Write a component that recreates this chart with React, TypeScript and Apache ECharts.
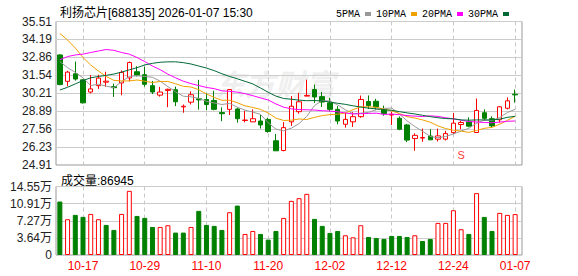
import React, { useEffect, useRef } from 'react';
import * as echarts from 'echarts';

const titleText = '利扬芯片[688135] 2026-01-07 15:30';
const volumeTitle = '成交量';

const dates = ['10-14','10-15','10-16','10-17','10-20','10-21','10-22','10-23','10-24','10-27','10-28','10-29','10-30','10-31','11-03','11-04','11-05','11-06','11-07','11-10','11-11','11-12','11-13','11-14','11-17','11-18','11-19','11-20','11-21','11-24','11-25','11-26','11-27','11-28','12-01','12-02','12-03','12-04','12-05','12-08','12-09','12-10','12-11','12-12','12-15','12-16','12-17','12-18','12-19','12-22','12-23','12-24','12-25','12-26','12-29','12-30','12-31','01-05','01-06','01-07'];

const opens = [33.04,31.09,31.65,31.2,30.3,30.77,31.03,30.7,30.97,31.34,31.8,31.58,30.77,30.07,30.42,30.47,29.2,29.55,29.8,29.75,29.68,28.78,29.02,29.05,28.2,28.1,28.16,28.28,26.7,25.98,28.1,28.85,30.0,30.48,29.96,29.5,29.02,27.92,28.1,28.48,29.6,29.62,29.02,28.6,28.36,27.87,26.87,26.9,27.05,26.82,26.82,27.3,27.9,28.1,27.31,28.77,28.33,28.25,29.1,30.14];
const closes = [30.85,31.77,31.26,29.5,30.53,31.33,31.1,30.62,31.75,32.48,31.55,30.87,30.3,30.3,30.5,29.58,29.25,30.1,29.72,29.38,29.02,28.7,30.48,28.33,28.23,28.33,27.87,27.38,25.96,27.67,29.25,29.58,30.05,29.94,29.56,29.02,28.16,28.28,28.48,29.75,29.3,29.2,28.7,28.65,27.55,26.75,27.1,26.94,26.77,27.06,27.23,28.0,28.05,27.78,28.94,28.36,27.8,29.21,29.65,30.09];
const lows = [30.8,30.72,31.14,29.45,30.2,30.53,30.68,29.94,30.06,31.09,31.45,30.7,30.15,29.96,29.18,29.26,28.77,29.38,29.0,28.95,28.95,28.15,28.6,28.04,28.06,28.08,27.6,27.3,25.96,25.92,27.8,28.7,29.98,29.5,29.2,28.87,27.92,27.67,27.72,28.4,29.05,29.0,28.55,27.87,27.48,26.6,25.96,26.62,26.75,26.65,26.72,27.2,27.55,27.7,27.28,28.18,27.67,28.04,29.02,29.52];
const highs = [33.09,31.87,32.55,31.25,31.55,31.58,31.8,30.92,31.89,32.55,32.2,32.17,31.12,30.68,30.55,30.7,29.38,30.35,31.2,30.2,30.4,29.17,30.5,29.14,28.92,29.02,28.6,28.4,27.2,28.08,30.0,30.24,31.21,30.85,30.3,29.87,29.26,28.77,28.82,30.04,30.05,29.8,29.3,28.85,28.5,27.95,27.25,27.6,27.55,27.6,27.43,28.75,28.16,28.43,29.82,29.02,28.5,29.25,29.9,30.48];

const ma5 = [32.55,32.1,31.75,31.35,30.78,30.88,30.74,30.62,31.07,31.46,31.5,31.45,31.39,31.1,30.7,30.31,29.99,29.95,29.83,29.61,29.49,29.38,29.46,29.18,28.96,28.82,28.65,28.03,27.56,27.44,27.63,27.97,28.5,29.3,29.68,29.63,29.35,28.99,28.7,28.74,28.79,29.0,29.09,29.12,28.68,28.17,27.75,27.4,27.02,26.92,27.02,27.2,27.42,27.62,28.0,28.23,28.19,28.42,28.79,29.02];
const ma10 = [34.63,34.14,33.55,32.85,32.3,31.85,31.45,31.16,31.12,31.12,31.19,31.1,31.0,31.08,31.08,30.91,30.72,30.67,30.47,30.16,29.9,29.69,29.7,29.51,29.28,29.16,29.02,28.75,28.37,28.2,28.22,28.31,28.27,28.43,28.56,28.63,28.66,28.75,29.0,29.21,29.21,29.17,29.04,28.91,28.71,28.48,28.38,28.24,28.07,27.8,27.6,27.48,27.41,27.32,27.46,27.62,27.69,27.92,28.21,28.51];
const ma20 = [32.68,32.92,33.04,33.1,33.22,33.33,33.44,33.38,33.22,33.1,32.85,32.55,32.22,31.95,31.62,31.35,31.1,30.92,30.78,30.64,30.55,30.39,30.35,30.29,30.18,30.03,29.87,29.71,29.42,29.18,29.06,29.0,28.99,28.97,28.92,28.89,28.84,28.75,28.68,28.7,28.72,28.74,28.65,28.67,28.63,28.56,28.52,28.49,28.54,28.5,28.4,28.32,28.22,28.12,28.09,28.05,28.03,28.08,28.14,28.16];
const ma30 = [30.45,30.65,30.9,31.15,31.35,31.45,31.53,31.63,31.77,31.94,32.1,32.3,32.42,32.5,32.53,32.53,32.47,32.37,32.22,32.07,31.88,31.65,31.45,31.28,31.09,30.9,30.6,30.28,30.0,29.82,29.77,29.7,29.66,29.67,29.64,29.56,29.47,29.39,29.28,29.19,29.11,29.06,29.0,28.95,28.85,28.76,28.68,28.58,28.48,28.4,28.34,28.32,28.24,28.22,28.24,28.24,28.24,28.3,28.43,28.51];

const volumes = [113600,76000,85200,81000,87300,76000,63900,53250,87300,136300,83000,78800,59600,59600,63200,47600,47600,59600,93700,63900,61800,53250,90900,105000,44700,51100,44700,32700,51100,78800,115000,120700,129900,76700,61800,46900,51100,41900,37600,63200,38300,36200,34100,40500,40500,38300,41900,29800,34100,68200,68200,95100,54700,44700,131400,80900,51100,89500,85200,86945];
const volumeUp = [0,1,0,0,1,1,0,0,1,1,0,0,0,1,1,0,0,1,0,0,0,0,1,0,1,1,0,0,0,1,1,1,1,0,0,0,0,1,1,1,0,0,0,0,0,0,1,0,0,1,1,1,1,0,1,0,0,1,1,1];

const priceMin = 24.91;
const priceMax = 35.51;
const priceStep = 1.325;
const priceTickLabels = ['24.91','26.23','27.56','28.89','30.21','31.54','32.86','34.19','35.51'];
const volMax = 145500;
const volStep = 36375;
const volTickLabels = ['0','3.64万','7.27万','10.91万','14.55万'];

const signalIndex = 52;
const signalPrice = 25.62;
const signalText = 'S';

const maNames = ['5PMA','10PMA','20PMA','30PMA'];

const FONT = "'Liberation Sans', 'Noto Sans CJK SC', sans-serif";
const RED = '#ff0000';
const GREEN = '#008000';
const MA_COLORS = ['#999999', '#f0a000', '#ff00ff', '#006a36'];

export default function App() {
  const ref = useRef<HTMLDivElement>(null);
  useEffect(() => {
    if (!ref.current) return;
    const chart = echarts.init(ref.current, null, { renderer: 'svg' });
    const labelInterval = (index: number) => index % 8 === 3;
    const dashed = { show: true, interval: labelInterval, alignWithLabel: true, lineStyle: { color: '#c8c8c8', type: [4, 3] as any, width: 1 } };
    const maSeries = [ma5, ma10, ma20, ma30].map((d, k) => ({
      name: maNames[k],
      type: 'line',
      xAxisIndex: 1,
      yAxisIndex: 1,
      data: d,
      symbol: 'none',
      smooth: false,
      lineStyle: { width: 1, color: MA_COLORS[k] },
      itemStyle: { color: MA_COLORS[k] },
      z: 3,
    }));
    const option: any = {
      animation: false,
      backgroundColor: '#ffffff',
      title: [
        { text: titleText, left: 55, top: 2, textStyle: { fontSize: 12, fontWeight: 'normal', color: '#000', fontFamily: FONT } },
        { text: `${volumeTitle}:${volumes[volumes.length - 1]}`, left: 56, top: 170, textStyle: { fontSize: 12, fontWeight: 'normal', color: '#000', fontFamily: FONT } },
      ],
      legend: {
        data: maNames,
        right: 64,
        top: 4,
        align: 'right',
        icon: 'rect',
        itemWidth: 6,
        itemHeight: 4,
        itemGap: 5,
        textStyle: { fontSize: 10, color: '#000', fontFamily: "'Liberation Mono', monospace" },
      },
      graphic: [
        {
          type: 'text',
          left: 215,
          top: 68,
          z: 0,
          silent: true,
          style: { text: '东方财富', fill: '#efefef', font: "italic bold 30px 'Noto Sans CJK SC'" },
        },
      ],
      grid: [
        { left: 56, top: 21.5, width: 466, height: 143.5, show: true, borderColor: '#999', borderWidth: 1 },
        { left: 56, top: 21.5, width: 463, height: 143.5 },
        { left: 56, top: 186.5, width: 466, height: 68.5, show: true, borderColor: '#999', borderWidth: 1 },
        { left: 56, top: 186.5, width: 463, height: 68.5 },
      ],
      xAxis: [
        { gridIndex: 0, type: 'value', min: 0, max: 1, show: false },
        { gridIndex: 1, type: 'category', data: dates, boundaryGap: true, axisLine: { show: false }, axisTick: { show: false }, axisLabel: { show: false }, splitLine: dashed },
        { gridIndex: 2, type: 'value', min: 0, max: 1, show: false },
        { gridIndex: 3, type: 'category', data: dates, boundaryGap: true, axisLine: { show: false }, axisTick: { show: false },
          axisLabel: { interval: labelInterval, color: RED, fontSize: 12, fontFamily: FONT, margin: 5 }, splitLine: dashed },
      ],
      yAxis: [
        { gridIndex: 0, type: 'value', min: priceMin, max: priceMax, interval: priceStep,
          axisLine: { show: false }, axisTick: { show: false },
          axisLabel: { margin: 4, color: '#222', fontSize: 12, fontFamily: FONT,
            formatter: (v: number) => priceTickLabels[Math.round((v - priceMin) / priceStep)] ?? '' },
          splitLine: { show: true, lineStyle: { color: '#cccccc', width: 1 } } },
        { gridIndex: 1, type: 'value', min: priceMin, max: priceMax, show: false },
        { gridIndex: 2, type: 'value', min: 0, max: volMax, interval: volStep,
          axisLine: { show: false }, axisTick: { show: false },
          axisLabel: { margin: 4, color: '#222', fontSize: 12, fontFamily: FONT,
            formatter: (v: number) => volTickLabels[Math.round(v / volStep)] ?? '' },
          splitLine: { show: true, lineStyle: { color: '#cccccc', width: 1 } } },
        { gridIndex: 3, type: 'value', min: 0, max: volMax, show: false },
      ],
      series: [
        {
          type: 'candlestick',
          xAxisIndex: 1,
          yAxisIndex: 1,
          barWidth: 5,
          data: opens.map((o, i) => [o, closes[i], lows[i], highs[i]]),
          itemStyle: { color: '#ffffff', color0: GREEN, borderColor: RED, borderColor0: GREEN, borderWidth: 1 },
          z: 2,
        },
        ...maSeries,
        {
          type: 'scatter',
          xAxisIndex: 1,
          yAxisIndex: 1,
          data: [[signalIndex, signalPrice]],
          symbol: 'rect',
          symbolSize: [8, 10],
          itemStyle: { color: 'rgba(0,0,0,0)' },
          label: { show: true, formatter: signalText, color: RED, fontSize: 11, fontFamily: FONT, position: 'inside' },
          z: 4,
        },
        {
          type: 'bar',
          xAxisIndex: 3,
          yAxisIndex: 3,
          barWidth: 5,
          data: volumes.map((v, i) => ({
            value: v,
            itemStyle: volumeUp[i]
              ? { color: '#ffffff', borderColor: RED, borderWidth: 1 }
              : { color: GREEN, borderColor: GREEN, borderWidth: 1 },
          })),
        },
      ],
    };
    chart.setOption(option);
    return () => chart.dispose();
  }, []);
  return <div ref={ref} style={{ width: 578, height: 276, position: 'absolute', left: 0, top: 0 }} />;
}
